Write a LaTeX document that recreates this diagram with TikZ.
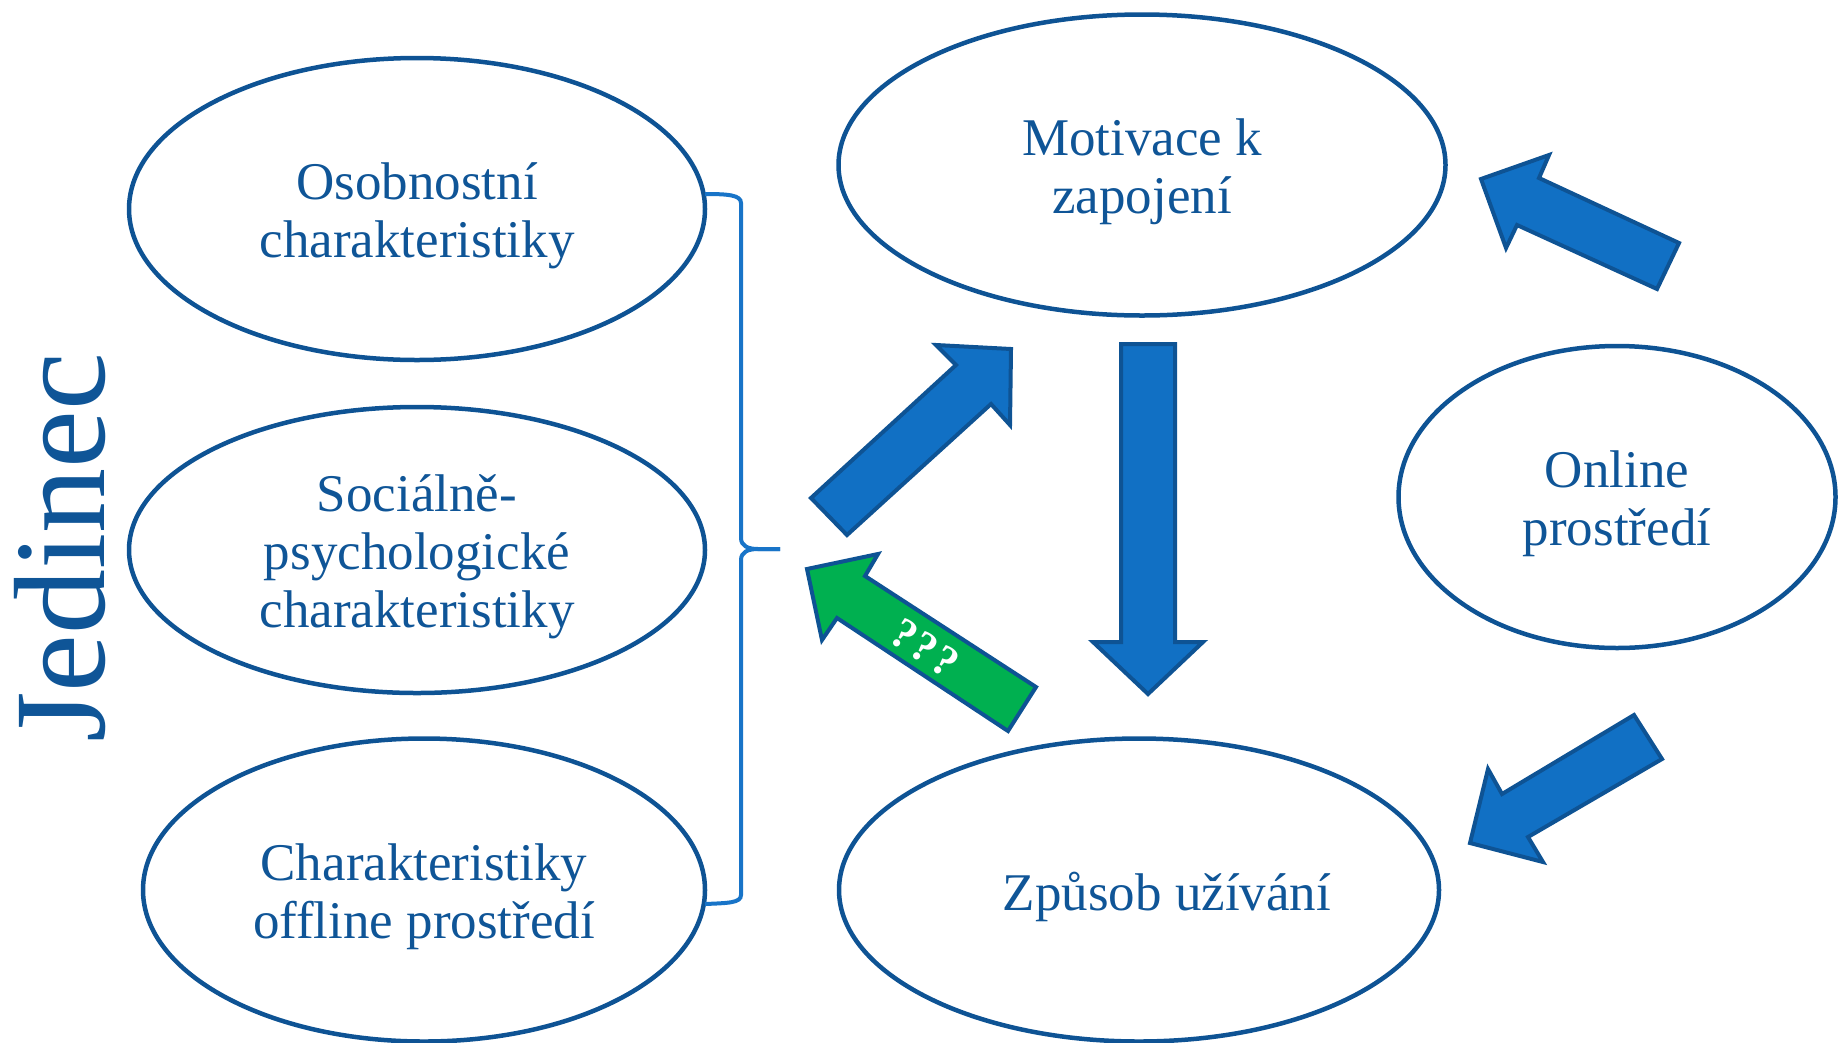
\documentclass[tikz,border=0pt]{standalone}
\usepackage{fontspec}
\setmainfont{Liberation Serif}
\usetikzlibrary{shapes.geometric}
\definecolor{ellblue}{HTML}{0E5394}
\definecolor{txtblue}{HTML}{0F5597}
\definecolor{arrfill}{HTML}{1170C4}
\definecolor{brblue}{HTML}{1874C8}
\definecolor{grn}{HTML}{00B050}
\begin{document}
\begin{tikzpicture}[x=1pt,y=-1pt,
  ell/.style={draw=ellblue, line width=4.5pt, ellipse, inner sep=0pt, outer sep=0pt},
  lbl/.style={text=txtblue, font=\fontsize{53}{58}\selectfont, align=center, inner sep=0pt, yshift=-7pt},
  blockarrow/.style={fill=arrfill, draw=ellblue, line width=4pt, line join=miter},
  greenarrow/.style={fill=grn, draw=ellblue, line width=4pt, line join=miter},
  bracket/.style={draw=brblue, line width=4pt}]
\useasboundingbox (0,0) rectangle (1843,1042);

% ellipses
\node[ell, minimum width=576, minimum height=302] (osob) at (417,209) {};
\node[ell, minimum width=576, minimum height=286] (soc) at (417,550) {};
\node[ell, minimum width=562, minimum height=303] (off) at (424,890) {};
\node[ell, minimum width=607, minimum height=301] (mot) at (1142,165) {};
\node[ell, minimum width=437, minimum height=302] (onl) at (1617,497) {};
\node[ell, minimum width=600, minimum height=303] (zpu) at (1139,890) {};

\node[lbl] (osobt) at (osob.center) {Osobnostní\\charakteristiky};
\node[lbl] (soct) at (soc.center) {Sociálně-\\psychologické\\charakteristiky};
\node[lbl] (offt) at (off.center) {Charakteristiky\\offline prostředí};
\node[lbl] (mott) at (mot.center) {Motivace k\\zapojení};
\node[lbl] (onlt) at (onl.center) {Online\\prostředí};
\node[lbl] (zput) at (1167,890) {Způsob užívání};

% Jedinec
\node[text=txtblue, font=\fontsize{130}{140}\selectfont, rotate=90, anchor=base, inner sep=0pt] (jed) at (104,548) {Jedinec};

% bracket
\coordinate (brtip) at (780,549);
\draw[bracket] (705,194) .. controls (728,194) and (741,195) .. (741,203)
  -- (741,538) .. controls (741,546) and (748,549) .. (758,549) -- (brtip);
\draw[bracket] (brtip) -- (758,549) .. controls (748,549) and (741,552) .. (741,560)
  -- (741,895) .. controls (741,903) and (728,903) .. (705,904);

% block arrows
\draw[blockarrow] (811,498) -- (956,365) -- (936,345) -- (1011,349) -- (1010,425) -- (991,404) -- (847,535) -- cycle;
\draw[blockarrow] (1121,344) -- (1175,344) -- (1175,642) -- (1203,642) -- (1148,694) -- (1093,642) -- (1121,642) -- cycle;
\draw[blockarrow] (1481,179) -- (1549,155) -- (1539,178) -- (1679,243) -- (1657,289) -- (1517,225) -- (1506,248) -- cycle;
\draw[blockarrow] (1470,843) -- (1488,769) -- (1502,794) -- (1634,715) -- (1662,759) -- (1528,837) -- (1543,862) -- cycle;
\draw[greenarrow] (807,569) -- (878,554) -- (865,576) -- (1036,687) -- (1008,731) -- (837,618) -- (822,640) -- cycle;
\node[text=white, font=\bfseries\fontsize{44}{48}\selectfont, rotate=-33.5, inner sep=0pt] (qqq) at (925,648) {?\kern3pt?\kern3pt?};
\end{tikzpicture}
\end{document}
